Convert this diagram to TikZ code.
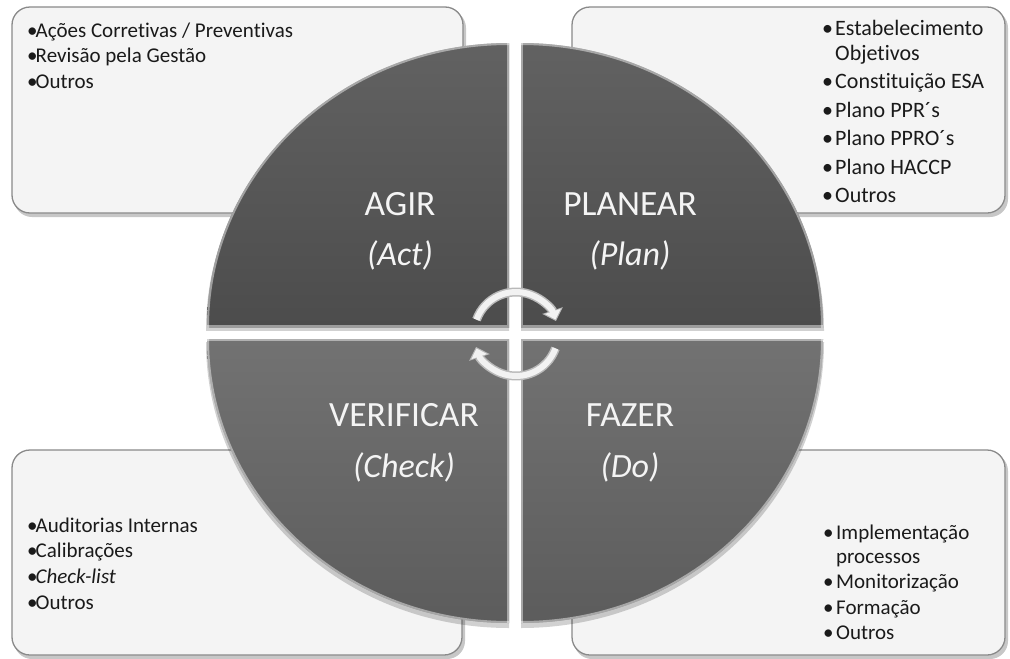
\documentclass[tikz,border=0pt]{standalone}
\usepackage{fontspec}
\setmainfont{Carlito}[Ligatures=NoCommon]
\usetikzlibrary{arrows.meta}

\definecolor{boxfill}{HTML}{F4F4F4}
\definecolor{boxline}{HTML}{8A8A8A}
\definecolor{boxtext}{HTML}{1A1A1A}
\definecolor{quadtext}{HTML}{F4F4F4}
\definecolor{darktop}{HTML}{626262}
\definecolor{darkbot}{HTML}{4C4C4C}
\definecolor{lighttop}{HTML}{727272}
\definecolor{lightbot}{HTML}{5C5C5C}

\tikzset{
  infobox/.style={draw=boxline, line width=1.3pt, fill=boxfill, rounded corners=18pt},
  boxshadow/.style={fill=black, opacity=0.22, rounded corners=18pt},
  boxlist/.style={anchor=north west, inner sep=0pt, align=left, text=boxtext,
    font=\fontsize{21}{25.7}\selectfont},
  quadtitle/.style={text=quadtext, inner sep=0pt, font=\fontsize{35.5}{40}\selectfont},
  quadsub/.style={quadtitle, font=\fontsize{34}{40}\selectfont\itshape},
  rim/.style={draw=white, opacity=0.45, line width=4pt},
  arrowedge/.style={line width=9pt, draw=gray!55, -{Triangle[length=11pt,width=21pt]}},
  arrowbody/.style={line width=6pt, draw=gray!10, shorten >=1.6pt, -{Triangle[length=8.5pt,width=16pt]}},
}

% one quarter of the PDCA disc: corner (#1,#2), opposite box corner (#3,#4)
\newcommand{\pdcaquarter}[6]{%
  \begin{scope}
    \clip (#1,#2) rectangle (#3,#4);
    \clip (#1,#2) ellipse [x radius=302pt, y radius=284pt];
    \shade[top color=#5, bottom color=#6] (#1,#2) rectangle (#3,#4);
    \draw[rim] (#1,#2) ellipse [x radius=302pt, y radius=284pt];
    \draw[rim] (#1,#2) rectangle (#3,#4);
  \end{scope}}
\newcommand{\pdcashadow}[4]{%
  \begin{scope}
    \clip (#1,#2) rectangle (#3,#4);
    \fill[black, opacity=0.18] (#1,#2) ellipse [x radius=303pt, y radius=286pt];
  \end{scope}}

\begin{document}
\begin{tikzpicture}[x=1pt, y=-1pt]
\useasboundingbox (0,0) rectangle (1010,659);
\fill[white] (0,0) rectangle (1010,659);

% rounded text panels with drop shadows
\fill[boxshadow] (14,10) rectangle (466,217);
\draw[infobox] (12,7) rectangle (463,213);
\fill[boxshadow] (574,10) rectangle (1008,217);
\draw[infobox] (572,7) rectangle (1005,213);
\fill[boxshadow] (14,453) rectangle (465,659);
\draw[infobox] (12,450) rectangle (462,655);
\fill[boxshadow] (574,453) rectangle (1008,659);
\draw[infobox] (572,450) rectangle (1005,655);

% panel contents
\node[boxlist] (actlist) at (27,22)
  {\rule{0pt}{15pt}\makebox[8.5pt][l]{•}Ações Corretivas / Preventivas\\
   \makebox[8.5pt][l]{•}Revisão pela Gestão\\
   \makebox[8.5pt][l]{•}Outros};
\node[boxlist, font=\fontsize{22}{25}\selectfont] (planlist) at (822,20)
  {\rule{0pt}{15pt}\makebox[13pt][l]{•}Estabelecimento\\
   \hspace*{13pt}Objetivos\\[3.5pt]
   \makebox[13pt][l]{•}Constituição ESA\\[3.5pt]
   \makebox[13pt][l]{•}Plano PPR´s\\[3.5pt]
   \makebox[13pt][l]{•}Plano PPRO´s\\[3.5pt]
   \makebox[13pt][l]{•}Plano HACCP\\[3.5pt]
   \makebox[13pt][l]{•}Outros};
\node[boxlist] (checklist) at (27,517)
  {\rule{0pt}{15pt}\makebox[8.5pt][l]{•}Auditorias Internas\\
   \makebox[8.5pt][l]{•}Calibrações\\
   \makebox[8.5pt][l]{•}\textit{Check-list}\\
   \makebox[8.5pt][l]{•}Outros};
\node[boxlist, font=\fontsize{21}{24}\selectfont] (dolist) at (823,524)
  {\rule{0pt}{15pt}\makebox[13pt][l]{•}Implementação\\
   \hspace*{13pt}processos\\[1.5pt]
   \makebox[13pt][l]{•}Monitorização\\[1.5pt]
   \makebox[13pt][l]{•}Formação\\[1.5pt]
   \makebox[13pt][l]{•}Outros};

% soft shadow under the disc
\pdcashadow{509}{330}{200}{30}
\pdcashadow{521}{330}{835}{30}
\pdcashadow{509}{342}{200}{640}
\pdcashadow{521}{342}{835}{640}

% the four quarters of the disc
\pdcaquarter{509}{327}{205}{41}{darktop}{darkbot}
\pdcaquarter{521}{327}{825}{41}{darktop}{darkbot}
\pdcaquarter{509}{339}{205}{625}{lighttop}{lightbot}
\pdcaquarter{521}{339}{825}{625}{lighttop}{lightbot}

% quarter labels
\node[quadtitle] (agir) at (400,204) {AGIR};
\node[quadsub] (act) at (400,255) {(Act)};
\node[quadtitle] (planear) at (630,204) {PLANEAR};
\node[quadsub] (plan) at (630,255) {(Plan)};
\node[quadtitle] (verificar) at (404,415) {VERIFICAR};
\node[quadsub] (check) at (404,467) {(Check)};
\node[quadtitle] (fazer) at (630,415) {FAZER};
\node[quadsub] (do) at (630,467) {(Do)};

% circular arrows in the middle
\coordinate (cyc) at (516,334);
\draw[arrowedge] (cyc) ++(200:42) arc[start angle=200, end angle=342, radius=42];
\draw[arrowbody] (cyc) ++(200:42) arc[start angle=200, end angle=342, radius=42];
\draw[arrowedge] (cyc) ++(20:42) arc[start angle=20, end angle=162, radius=42];
\draw[arrowbody] (cyc) ++(20:42) arc[start angle=20, end angle=162, radius=42];
\end{tikzpicture}
\end{document}
